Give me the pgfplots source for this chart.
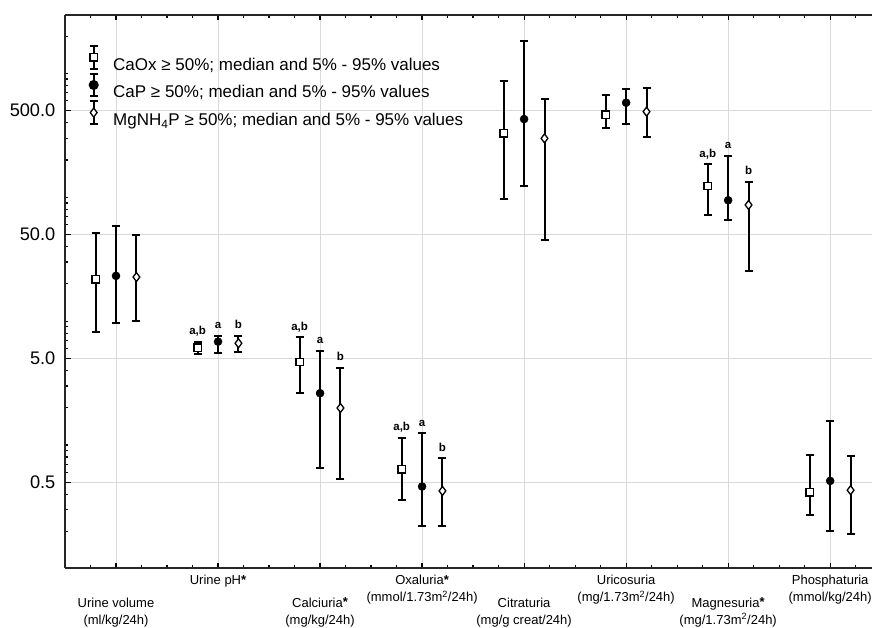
\documentclass[border=0pt]{standalone}
\usepackage{pgfplots}
\pgfplotsset{compat=1.18}
\usepackage{pgfplotstable}
\usepackage{fontspec}
\setmainfont{Liberation Sans}

% x  median  5%  95%
\pgfplotstableread{
x med lo hi
-0.2 21.8 8.23 51.8
0.8 6.11 5.44 6.80
1.8 4.69 2.65 7.42
2.8 0.638 0.363 1.14
3.8 329 96.9 873
4.8 464 363 669
5.8 123 72.0 185
6.8 0.416 0.271 0.832
}\caoxdata
\pgfplotstableread{
x med lo hi
0 23.2 9.67 58.7
1 6.83 5.51 7.64
2 2.62 0.650 5.78
3 0.462 0.221 1.245
4 428 123 1816
5 580 388 744
6 94.6 65.6 217
7 0.513 0.203 1.574
}\capdata
\pgfplotstableread{
x med lo hi
0.2 22.7 9.98 49.9
1.2 6.63 5.67 7.60
2.2 1.99 0.530 4.21
3.2 0.426 0.221 0.783
4.2 299 45.2 618
5.2 491 307 758
6.2 86.7 25.3 134
7.2 0.432 0.191 0.817
}\mgpdata

\tikzset{
  lab/.style={font=\fontsize{13bp}{17bp}\selectfont, anchor=base, inner sep=0pt},
  lett/.style={font=\bfseries\fontsize{11.5bp}{13bp}\selectfont, anchor=base, inner sep=0pt, yshift=7bp},
}
\newcommand{\st}{\raisebox{0.5bp}{\bfseries *}}

\begin{document}
\begin{tikzpicture}
\begin{axis}[
  scale only axis, width=807bp, height=553bp,
  clip=false,
  xmin=-0.5, xmax=7.41,
  ymode=log, ymin=0.1016, ymax=2963,
  axis x line=box, axis y line=left,
  axis line style={-, line width=1.7bp, black!85},
  xtick={0,...,7}, xticklabels={},
  minor xtick={-0.25,0,...,7.25},
  ytick={0.5,5,50,500}, yticklabels={0.5,5.0,50.0,500.0},
  minor ytick={0.2,0.3,0.4,0.6,0.7,0.8,0.9,1,2,3,4,6,7,8,9,10,20,30,40,60,70,80,90,100,200,300,400,600,700,800,900,1000,2000},
  tick align=inside,
  major tick length=5.5bp, minor tick length=3bp,
  every tick/.style={black, line width=1.2bp},
  grid=major, major grid style={black!15, line width=1bp},
  yticklabel style={font=\fontsize{18.2bp}{20bp}\selectfont, inner sep=0pt, xshift=-9.5bp},
  legend cell align=left,
  legend style={at={(axis description cs:0,1)}, anchor=north west,
    xshift=23.5bp, yshift=-30bp, draw=none, fill=none, inner sep=0pt,
    row sep=0.5bp, font=\fontsize{17bp}{19bp}\selectfont,
    nodes={inner sep=0.5bp},
    /tikz/every odd column/.append style={column sep=14bp}},
  errb/.style={line width=2bp,
    error bars/y dir=both, error bars/y explicit,
    error bars/error bar style={line width=2bp, black},
    error bars/error mark options={rotate=90, mark size=4bp, line width=2bp, black}},
]
\addplot[only marks, errb, mark=square*, mark size=3.7bp,
  mark options={fill=white, draw=black, line width=1.3bp},
  legend image code/.code={
    \draw[black, line width=2bp] (0bp,-3.7bp)--(0bp,18.7bp) (-4bp,-3.7bp)--(4bp,-3.7bp) (-4bp,18.7bp)--(4bp,18.7bp);
    \draw[black, fill=white, line width=1.3bp] (-3.7bp,3.8bp) rectangle (3.7bp,11.2bp);}]
  table[x=x, y=med, y error plus expr=\thisrow{hi}-\thisrow{med}, y error minus expr=\thisrow{med}-\thisrow{lo}] {\caoxdata};
\addlegendentry{CaOx ≥ 50\%; median and 5\% - 95\% values}
\addplot[only marks, errb, mark=*, mark size=4bp,
  mark options={fill=black, draw=black, line width=0.5bp},
  legend image code/.code={
    \draw[black, line width=2bp] (0bp,-3.7bp)--(0bp,18.7bp) (-4bp,-3.7bp)--(4bp,-3.7bp) (-4bp,18.7bp)--(4bp,18.7bp);
    \fill[black] (0bp,7.5bp) circle (4bp);}]
  table[x=x, y=med, y error plus expr=\thisrow{hi}-\thisrow{med}, y error minus expr=\thisrow{med}-\thisrow{lo}] {\capdata};
\addlegendentry{CaP ≥ 50\%; median and 5\% - 95\% values}
\addplot[only marks, errb, mark=diamond*, mark size=4.5bp,
  mark options={fill=white, draw=black, line width=1.3bp},
  legend image code/.code={
    \draw[black, line width=2bp] (0bp,-3.7bp)--(0bp,18.7bp) (-4bp,-3.7bp)--(4bp,-3.7bp) (-4bp,18.7bp)--(4bp,18.7bp);
    \draw[black, fill=white, line width=1.3bp] (0bp,12bp)--(3.4bp,7.5bp)--(0bp,3bp)--(-3.4bp,7.5bp)--cycle;}]
  table[x=x, y=med, y error plus expr=\thisrow{hi}-\thisrow{med}, y error minus expr=\thisrow{med}-\thisrow{lo}] {\mgpdata};
\addlegendentry{MgNH\textsubscript{4}P ≥ 50\%; median and 5\% - 95\% values}

% significance letters
\node[lett] at (axis cs:0.8,6.80) {a,b};
\node[lett] at (axis cs:1,7.64) {a};
\node[lett] at (axis cs:1.2,7.60) {b};
\node[lett] at (axis cs:1.8,7.42) {a,b};
\node[lett] at (axis cs:2,5.78) {a};
\node[lett] at (axis cs:2.2,4.21) {b};
\node[lett] at (axis cs:2.8,1.14) {a,b};
\node[lett] at (axis cs:3,1.245) {a};
\node[lett] at (axis cs:3.2,0.783) {b};
\node[lett] at (axis cs:5.8,185) {a,b};
\node[lett] at (axis cs:6,217) {a};
\node[lett] at (axis cs:6.2,134) {b};

% category labels
\node[lab, yshift=-39bp] at (axis cs:0,0.1016) {Urine volume};
\node[lab, yshift=-56bp] at (axis cs:0,0.1016) {(ml/kg/24h)};
\node[lab, yshift=-16.5bp] at (axis cs:1,0.1016) {Urine pH\st};
\node[lab, yshift=-39bp] at (axis cs:2,0.1016) {Calciuria\st};
\node[lab, yshift=-56bp] at (axis cs:2,0.1016) {(mg/kg/24h)};
\node[lab, yshift=-16.5bp] at (axis cs:3,0.1016) {Oxaluria\st};
\node[lab, yshift=-33.5bp] at (axis cs:3,0.1016) {(mmol/1.73m\textsuperscript{2}/24h)};
\node[lab, yshift=-39bp] at (axis cs:4,0.1016) {Citraturia};
\node[lab, yshift=-56bp] at (axis cs:4,0.1016) {(mg/g creat/24h)};
\node[lab, yshift=-16.5bp] at (axis cs:5,0.1016) {Uricosuria};
\node[lab, yshift=-33.5bp] at (axis cs:5,0.1016) {(mg/1.73m\textsuperscript{2}/24h)};
\node[lab, yshift=-39bp] at (axis cs:6,0.1016) {Magnesuria\st};
\node[lab, yshift=-56bp] at (axis cs:6,0.1016) {(mg/1.73m\textsuperscript{2}/24h)};
\node[lab, yshift=-16.5bp] at (axis cs:7,0.1016) {Phosphaturia};
\node[lab, yshift=-33.5bp] at (axis cs:7,0.1016) {(mmol/kg/24h)};

\coordinate (SW) at (rel axis cs:0,0);
\coordinate (NE) at (rel axis cs:1,1);
\end{axis}
\pgfresetboundingbox
\path[use as bounding box] ([xshift=-65bp,yshift=-60bp]SW) rectangle ([yshift=15bp]NE);
\end{tikzpicture}
\end{document}
